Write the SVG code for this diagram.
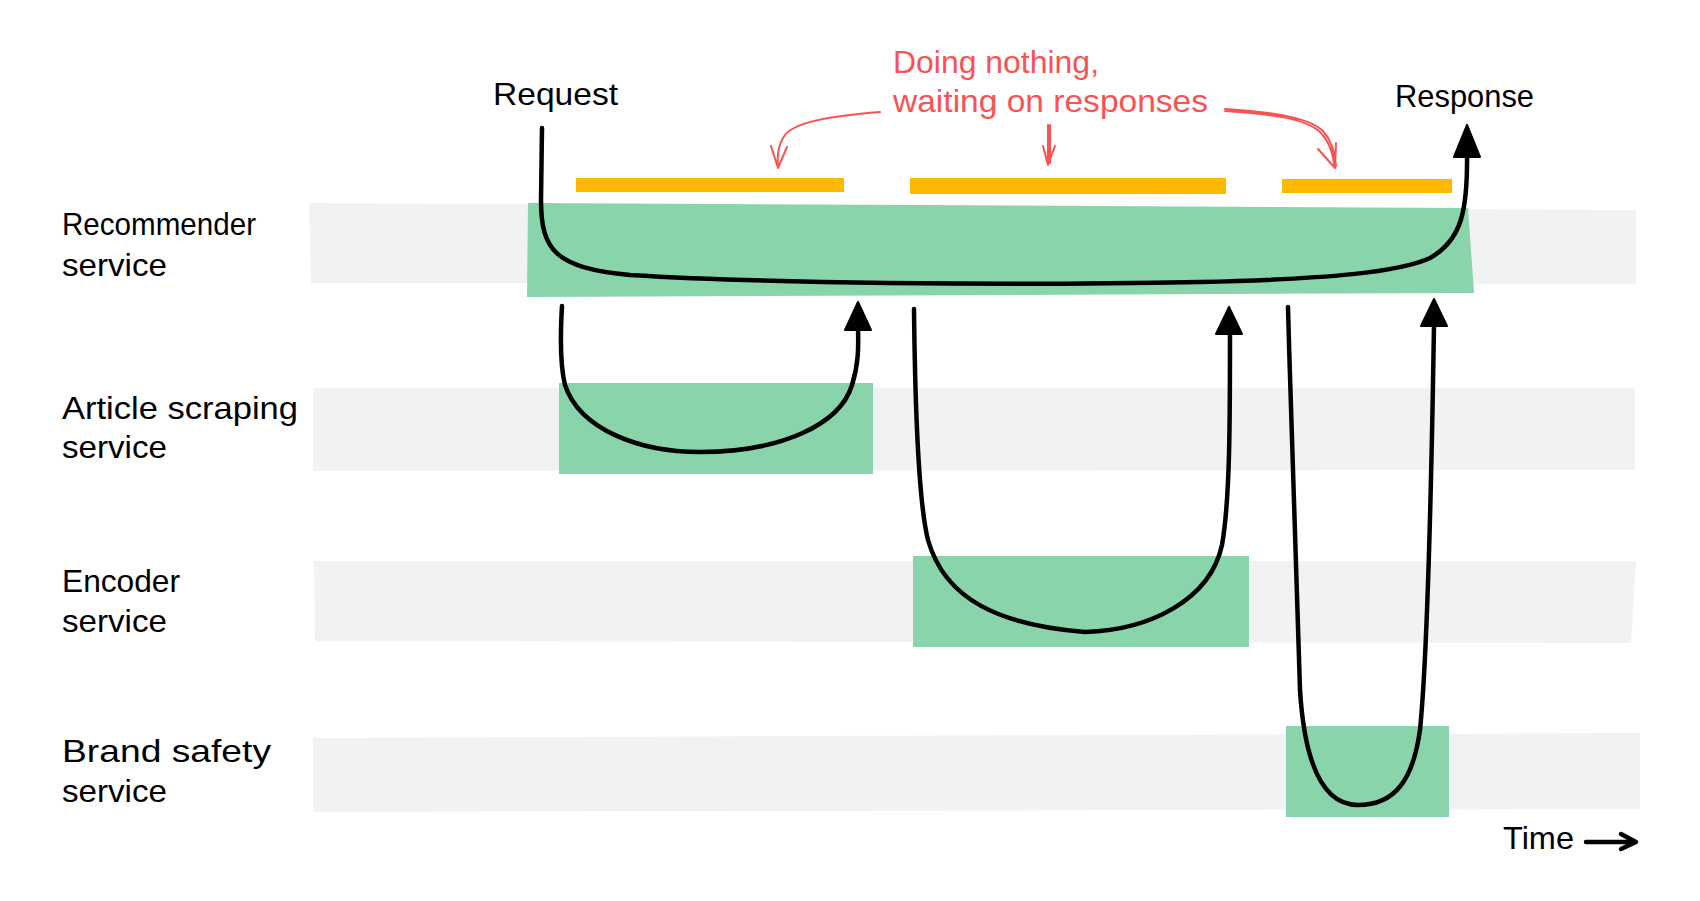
<svg xmlns="http://www.w3.org/2000/svg" width="1700" height="901" viewBox="0 0 1700 901">
<style>
.lane{fill:#f1f2f4}
.act{fill:#8ad4ab}
.bar{fill:#ffb800}
.t{font-family:"Liberation Sans",Arial,sans-serif;font-size:32px;fill:#000}
.r{font-family:"Liberation Sans",Arial,sans-serif;font-size:32px;fill:#fa5252}
.c{fill:none;stroke:#000;stroke-width:4.5;stroke-linecap:round;stroke-linejoin:round}
.ah{fill:#000;stroke:#000;stroke-width:2;stroke-linejoin:round}
.ra{fill:none;stroke:#fa5252;stroke-width:2;stroke-linecap:round;stroke-linejoin:round}
</style>
<rect width="1700" height="901" fill="#fff"/>
<g id="lane-recommender">
<polygon class="lane" points="309,203 1636,210 1636,284 311,283"/>
<text class="t" x="62" y="235" textLength="194" lengthAdjust="spacingAndGlyphs">Recommender</text>
<text class="t" x="62" y="276" textLength="105" lengthAdjust="spacingAndGlyphs">service</text>
</g>
<g id="lane-article">
<polygon class="lane" points="313,388 1635,388 1635,470 313,471"/>
<text class="t" x="62" y="419" textLength="236" lengthAdjust="spacingAndGlyphs">Article scraping</text>
<text class="t" x="62" y="458" textLength="105" lengthAdjust="spacingAndGlyphs">service</text>
</g>
<g id="lane-encoder">
<polygon class="lane" points="314,561 1636,561 1631,643 315,641"/>
<text class="t" x="62" y="592" textLength="118" lengthAdjust="spacingAndGlyphs">Encoder</text>
<text class="t" x="62" y="632" textLength="105" lengthAdjust="spacingAndGlyphs">service</text>
</g>
<g id="lane-brand">
<polygon class="lane" points="313,738 1640,733 1640,809 313,812"/>
<text class="t" x="62" y="762" textLength="209" lengthAdjust="spacingAndGlyphs">Brand safety</text>
<text class="t" x="62" y="802" textLength="105" lengthAdjust="spacingAndGlyphs">service</text>
</g>
<g id="wait-bars">
<rect class="bar" x="576" y="178" width="268" height="14"/>
<rect class="bar" x="910" y="178" width="316" height="16"/>
<rect class="bar" x="1282" y="179" width="170" height="14"/>
</g>
<g id="box-recommender"><polygon class="act" points="528,203 1468,208 1474,293 527,297"/></g>
<g id="box-article"><rect class="act" x="559" y="383" width="314" height="91"/></g>
<g id="box-encoder"><rect class="act" x="913" y="556" width="336" height="91"/></g>
<g id="box-brand"><rect class="act" x="1286" y="726" width="163" height="91"/></g>
<g id="labels">
<text class="t" x="493" y="105" textLength="125" lengthAdjust="spacingAndGlyphs">Request</text>
<text class="t" x="1395" y="107" textLength="139" lengthAdjust="spacingAndGlyphs">Response</text>
<text class="r" x="893" y="73" textLength="206" lengthAdjust="spacingAndGlyphs">Doing nothing,</text>
<text class="r" x="893" y="112" textLength="315" lengthAdjust="spacingAndGlyphs">waiting on responses</text>
<text class="t" x="1503" y="849" textLength="71" lengthAdjust="spacingAndGlyphs">Time</text>
</g>
<g id="connectors">
<path class="c" stroke-width="5" d="M542 128 L541 200 C541 250 555 268 630 275 C760 283 1000 286 1200 282 C1330 279 1400 272 1430 258 C1462 240 1468 210 1467 150"/>
<polygon class="ah" points="1467,125 1480,157 1454,157"/>
<path class="c" d="M562 306 C560 340 560 365 565 385 C580 430 640 452 700 452 C780 452 840 425 852 385 C860 360 858 340 858 325"/>
<polygon class="ah" points="858,302 871,330 845,330"/>
<path class="c" d="M914 309 C915 400 918 500 928 540 C945 600 1000 625 1085 632 C1150 630 1210 600 1222 545 C1230 500 1230 420 1230 330"/>
<polygon class="ah" points="1229,307 1242,334 1216,334"/>
<path class="c" d="M1288 307 C1292 450 1296 600 1300 690 C1305 770 1325 805 1358 805 C1395 805 1413 780 1420 730 C1428 650 1432 450 1434 325"/>
<polygon class="ah" points="1434,299 1447,326 1421,326"/>
<path class="c" d="M1586 842 L1634 842 M1621 834 L1636 842 L1621 849"/>
<path class="ra" d="M880 112 C830 116 795 122 785 135 C778 145 777 155 778 168 M771 146 L778 168 L787 147"/>
<path class="ra" d="M1048 125 L1048 165 M1050 125 L1050 163 M1043 146 L1048 165 L1055 146"/>
<path class="ra" d="M1225 111 C1270 114 1305 118 1320 132 C1330 142 1333 155 1335 168 M1225 109 C1272 112 1308 117 1323 131 C1332 141 1335 153 1336 166 M1318 149 L1335 168 L1336 143"/>
</g>
</svg>
